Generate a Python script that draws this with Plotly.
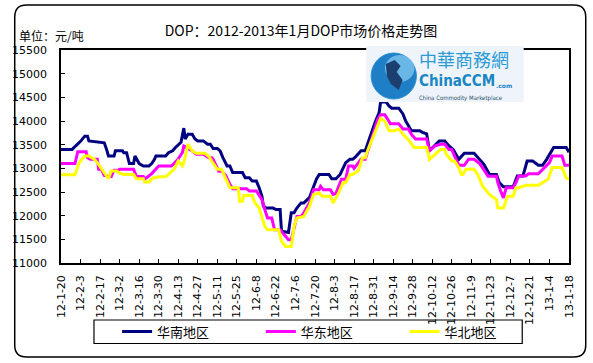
import plotly.graph_objects as go

# ---------------- data ----------------
south_dates = ["2012-01-20","2012-01-28","2012-01-30","2012-02-03","2012-02-06","2012-02-08","2012-02-09","2012-02-15","2012-02-20","2012-02-22","2012-02-23","2012-02-27","2012-02-28","2012-03-04","2012-03-05","2012-03-07","2012-03-09","2012-03-12","2012-03-13","2012-03-16","2012-03-19","2012-03-23","2012-03-25","2012-03-27","2012-03-28","2012-04-04","2012-04-06","2012-04-09","2012-04-11","2012-04-15","2012-04-17","2012-04-18","2012-04-20","2012-04-23","2012-04-25","2012-04-27","2012-05-01","2012-05-04","2012-05-06","2012-05-08","2012-05-11","2012-05-13","2012-05-15","2012-05-18","2012-05-20","2012-05-22","2012-05-29","2012-05-31","2012-06-03","2012-06-05","2012-06-08","2012-06-10","2012-06-12","2012-06-13","2012-06-15","2012-06-20","2012-06-22","2012-06-25","2012-06-26","2012-07-01","2012-07-03","2012-07-05","2012-07-07","2012-07-10","2012-07-12","2012-07-16","2012-07-18","2012-07-21","2012-07-23","2012-07-30","2012-08-01","2012-08-04","2012-08-07","2012-08-09","2012-08-11","2012-08-14","2012-08-16","2012-08-18","2012-08-22","2012-08-25","2012-08-27","2012-08-29","2012-09-01","2012-09-04","2012-09-05","2012-09-09","2012-09-11","2012-09-13","2012-09-18","2012-09-21","2012-09-23","2012-09-25","2012-09-27","2012-10-03","2012-10-05","2012-10-08","2012-10-10","2012-10-17","2012-10-21","2012-10-24","2012-10-27","2012-10-31","2012-11-04","2012-11-11","2012-11-15","2012-11-18","2012-11-22","2012-11-27","2012-11-29","2012-12-02","2012-12-09","2012-12-12","2012-12-16","2012-12-19","2012-12-23","2012-12-27","2012-12-30","2013-01-02","2013-01-07","2013-01-16","2013-01-18"]
south_values = [13400,13400,13460,13570,13680,13680,13580,13560,13540,13370,13260,13260,13370,13370,13330,13330,13100,13100,13260,13100,13050,13050,13100,13190,13260,13260,13330,13370,13440,13550,13850,13620,13720,13720,13620,13580,13580,13510,13510,13420,13420,13370,13225,13050,13050,12910,12910,12800,12800,12730,12730,12590,12410,12200,12160,12160,12130,12130,11670,11645,12060,12060,12160,12270,12270,12380,12550,12770,12870,12870,12780,12780,12870,13015,13120,13190,13190,13240,13370,13370,13550,13720,13970,14185,14400,14400,14320,14270,14270,14150,14000,13900,13795,13795,13760,13730,13370,13580,13580,13475,13400,13190,13320,13320,13190,13085,12870,12870,12700,12610,12610,12840,12840,13155,13155,13065,13065,13190,13440,13440,13340]

east_dates = ["2012-01-20","2012-01-30","2012-02-01","2012-02-07","2012-02-08","2012-02-10","2012-02-15","2012-02-16","2012-02-18","2012-02-20","2012-02-25","2012-02-27","2012-03-01","2012-03-02","2012-03-12","2012-03-14","2012-03-19","2012-03-20","2012-03-25","2012-03-28","2012-03-30","2012-04-08","2012-04-10","2012-04-13","2012-04-16","2012-04-17","2012-04-23","2012-04-26","2012-05-01","2012-05-05","2012-05-07","2012-05-08","2012-05-12","2012-05-14","2012-05-17","2012-05-20","2012-05-22","2012-06-01","2012-06-03","2012-06-08","2012-06-12","2012-06-14","2012-06-16","2012-06-19","2012-06-21","2012-06-25","2012-06-27","2012-07-01","2012-07-03","2012-07-05","2012-07-07","2012-07-10","2012-07-12","2012-07-16","2012-07-19","2012-07-23","2012-07-24","2012-07-26","2012-07-31","2012-08-02","2012-08-04","2012-08-08","2012-08-11","2012-08-13","2012-08-16","2012-08-17","2012-08-22","2012-08-25","2012-08-27","2012-08-29","2012-09-01","2012-09-03","2012-09-05","2012-09-08","2012-09-10","2012-09-12","2012-09-18","2012-09-21","2012-09-25","2012-09-27","2012-09-30","2012-10-08","2012-10-10","2012-10-14","2012-10-18","2012-10-21","2012-10-24","2012-10-26","2012-10-29","2012-10-31","2012-11-04","2012-11-07","2012-11-11","2012-11-15","2012-11-17","2012-11-21","2012-11-27","2012-11-28","2012-11-30","2012-12-02","2012-12-04","2012-12-09","2012-12-11","2012-12-13","2012-12-18","2012-12-20","2012-12-27","2012-12-30","2013-01-04","2013-01-06","2013-01-13","2013-01-15","2013-01-18"]
east_values = [13100,13100,13350,13350,13225,13190,13190,12980,12980,12850,12825,12960,12960,12980,12980,12825,12825,12770,12890,12980,13050,13050,13100,13200,13335,13470,13370,13300,13300,13225,13225,13190,12940,12940,12850,12660,12570,12570,12520,12520,12340,12130,11950,11950,11700,11700,11630,11490,11490,11740,11985,11985,12060,12270,12550,12550,12620,12550,12550,12450,12470,12770,12770,13050,13050,13000,13190,13190,13370,13580,13830,14040,14130,14130,14040,13940,13940,13830,13830,13720,13620,13620,13370,13475,13510,13510,13400,13400,13190,13065,13065,13190,13190,13100,13015,12835,12835,12700,12520,12375,12590,12590,12700,12840,12840,12885,12885,12980,13120,13260,13260,13065,13065]

north_dates = ["2012-01-20","2012-01-30","2012-02-02","2012-02-06","2012-02-09","2012-02-13","2012-02-15","2012-02-20","2012-02-23","2012-02-25","2012-02-29","2012-03-02","2012-03-05","2012-03-12","2012-03-14","2012-03-19","2012-03-20","2012-03-23","2012-03-26","2012-03-28","2012-03-30","2012-04-04","2012-04-06","2012-04-10","2012-04-13","2012-04-16","2012-04-17","2012-04-20","2012-04-23","2012-04-26","2012-05-02","2012-05-05","2012-05-07","2012-05-11","2012-05-14","2012-05-17","2012-05-20","2012-05-26","2012-05-27","2012-05-29","2012-05-30","2012-06-05","2012-06-07","2012-06-10","2012-06-14","2012-06-16","2012-06-24","2012-06-26","2012-06-29","2012-07-03","2012-07-05","2012-07-07","2012-07-12","2012-07-16","2012-07-19","2012-07-23","2012-07-25","2012-07-31","2012-08-02","2012-08-06","2012-08-09","2012-08-11","2012-08-14","2012-08-16","2012-08-20","2012-08-23","2012-08-25","2012-08-27","2012-08-30","2012-09-02","2012-09-05","2012-09-08","2012-09-11","2012-09-15","2012-09-17","2012-09-18","2012-09-21","2012-09-25","2012-09-29","2012-10-08","2012-10-10","2012-10-14","2012-10-18","2012-10-21","2012-10-22","2012-10-26","2012-10-28","2012-10-31","2012-11-02","2012-11-03","2012-11-05","2012-11-11","2012-11-14","2012-11-17","2012-11-22","2012-11-27","2012-11-28","2012-12-02","2012-12-05","2012-12-09","2012-12-11","2012-12-13","2012-12-18","2012-12-27","2012-12-30","2013-01-03","2013-01-06","2013-01-13","2013-01-16","2013-01-18"]
north_values = [12865,12865,13120,13260,13260,13190,13120,12910,12780,12945,12945,12900,12870,12870,12780,12780,12710,12710,12800,12800,12820,12820,12870,12980,13155,13050,13120,13510,13370,13320,13320,13250,13155,12980,12980,12800,12590,12590,12305,12305,12425,12425,12270,12160,11775,11700,11700,11455,11350,11350,11775,11950,11985,12197,12447,12480,12410,12410,12270,12480,12695,12695,12870,12870,12950,13225,13225,13400,13617,13830,14055,14000,13795,13795,13830,13830,13723,13600,13440,13440,13190,13300,13400,13400,13300,13155,13155,13015,12870,12870,12980,12980,12850,12626,12447,12340,12160,12160,12410,12410,12590,12590,12640,12640,12695,12770,13015,13015,12800,12770]

series_names = ["华南地区", "华东地区", "华北地区"]
series_colors = ["#000080", "#FF00FF", "#FFFF00"]

tick_dates = ["2012-01-20","2012-02-03","2012-02-17","2012-03-02","2012-03-16","2012-03-30","2012-04-13","2012-04-27","2012-05-11","2012-05-25","2012-06-08","2012-06-22","2012-07-06","2012-07-20","2012-08-03","2012-08-17","2012-08-31","2012-09-14","2012-09-28","2012-10-12","2012-10-26","2012-11-09","2012-11-23","2012-12-07","2012-12-21","2013-01-04","2013-01-18"]
tick_labels = ["12-1-20","12-2-3","12-2-17","12-3-2","12-3-16","12-3-30","12-4-13","12-4-27","12-5-11","12-5-25","12-6-8","12-6-22","12-7-6","12-7-20","12-8-3","12-8-17","12-8-31","12-9-14","12-9-28","12-10-12","12-10-26","12-11-9","12-11-23","12-12-7","12-12-21","13-1-4","13-1-18"]

title_text = "DOP：2012-2013年1月DOP市场价格走势图"
unit_text = "单位：元/吨"

# ---------------- layout geometry ----------------
W, H = 593, 363
ML, MR, MT, MB = 53, 24, 50, 100
PW = W - ML - MR
PH = H - MT - MB


def px(x):
    return (x - ML) / PW


def py(y):
    return (H - MB - y) / PH


CJK = "Noto Sans CJK SC, DejaVu Sans, sans-serif"
NUM = "DejaVu Sans, Noto Sans CJK SC, sans-serif"

fig = go.Figure()
all_series = [(south_dates, south_values), (east_dates, east_values), (north_dates, north_values)]
legend_ids = ["legend", "legend2", "legend3"]
for (xs, ys), name, color, lg in zip(all_series, series_names, series_colors, legend_ids):
    fig.add_trace(go.Scatter(x=xs, y=ys, mode="lines", name=name,
                             line=dict(color=color, width=3), legend=lg))

# ---------------- shapes ----------------
shapes = []
x0, y0, x1, y1, r = 6, 5, 586, 357, 12
pts = lambda a, b: f"{px(a):.5f},{py(b):.5f}"
frame = (f"M{pts(x0 + r, y0)} L{pts(x1 - r, y0)} Q{pts(x1, y0)} {pts(x1, y0 + r)} "
         f"L{pts(x1, y1 - r)} Q{pts(x1, y1)} {pts(x1 - r, y1)} L{pts(x0 + r, y1)} "
         f"Q{pts(x0, y1)} {pts(x0, y1 - r)} L{pts(x0, y0 + r)} Q{pts(x0, y0)} {pts(x0 + r, y0)} Z")
shapes.append(dict(type="path", path=frame, xref="paper", yref="paper",
                   line=dict(color="black", width=1.5), layer="above"))
shapes.append(dict(type="rect", xref="paper", yref="paper", x0=px(86.5), x1=px(521.5),
                   y0=py(320), y1=py(343.5), line=dict(color="black", width=1.2), layer="above"))
shapes.append(dict(type="rect", xref="paper", yref="paper", x0=px(363), x1=px(523),
                   y0=py(46), y1=py(102), fillcolor="#eef4f9", line=dict(width=0), layer="above"))
shapes.append(dict(type="circle", xref="paper", yref="paper", x0=px(368), x1=px(414),
                   y0=py(53), y1=py(99), fillcolor="#1e7fc6", line=dict(color="#2a90d0", width=1), layer="above"))
shapes.append(dict(type="circle", xref="paper", yref="paper", x0=px(382), x1=px(412),
                   y0=py(55), y1=py(82), fillcolor="#7cc6ee", line=dict(width=0), opacity=0.8, layer="above"))
land = (f"M{pts(383, 64)} L{pts(392, 60)} L{pts(398, 66)} L{pts(394, 72)} L{pts(400, 80)} "
        f"L{pts(396, 90)} L{pts(388, 84)} L{pts(384, 76)} Z")
shapes.append(dict(type="path", path=land, xref="paper", yref="paper",
                   fillcolor="#1b3f6e", line=dict(width=0), layer="above"))

# ---------------- annotations ----------------
ann = []
ann.append(dict(text=unit_text, x=px(8), y=py(36), xref="paper", yref="paper",
                xanchor="left", yanchor="middle", showarrow=False,
                font=dict(family=CJK, size=12, color="black")))
ann.append(dict(text="中華商務網", x=px(416), y=py(59), xref="paper", yref="paper",
                xanchor="left", yanchor="middle", showarrow=False, borderpad=0,
                font=dict(family="Noto Sans CJK TC, Noto Sans CJK SC", size=18, color="#2b9ad6")))
ann.append(dict(text="<b>ChinaCCM</b>", x=px(416), y=py(81), xref="paper", yref="paper",
                xanchor="left", yanchor="middle", showarrow=False, borderpad=0,
                font=dict(family="DejaVu Sans Condensed, DejaVu Sans", size=15, color="#1a86c4")))
ann.append(dict(text="<b>.com</b>", x=px(494), y=py(85), xref="paper", yref="paper",
                xanchor="left", yanchor="middle", showarrow=False, borderpad=0,
                font=dict(family="DejaVu Sans", size=6, color="#1a86c4")))
ann.append(dict(text="China Commodity Marketplace", x=px(416), y=py(97.5), xref="paper", yref="paper",
                xanchor="left", yanchor="middle", showarrow=False, borderpad=0,
                font=dict(family="DejaVu Sans Condensed, DejaVu Sans", size=6, color="#2a4f70")))

legend_common = dict(orientation="h", xanchor="left", yanchor="middle",
                     bgcolor="rgba(0,0,0,0)", borderwidth=0,
                     font=dict(family=CJK, size=13, color="black"), xref="paper", yref="paper")

fig.update_layout(
    width=W, height=H,
    margin=dict(l=ML, r=MR, t=MT, b=MB, pad=0),
    paper_bgcolor="white", plot_bgcolor="white",
    showlegend=True,
    title=dict(text=title_text, x=301 / W, y=1 - 31 / H, xref="container", yref="container",
               xanchor="center", yanchor="middle",
               font=dict(family=CJK, size=14, color="black")),
    xaxis=dict(type="date", range=["2012-01-20", "2013-01-18"],
               tickmode="array", tickvals=tick_dates, ticktext=tick_labels,
               tickangle=-90, ticks="inside", ticklen=4, tickcolor="black",
               showline=True, linecolor="black", linewidth=1.5, mirror=True,
               showgrid=False, zeroline=False, ticklabelstandoff=6,
               tickfont=dict(family=NUM, size=11, color="black")),
    yaxis=dict(range=[11000, 15500], tickmode="linear", tick0=11000, dtick=500,
               tickformat="d",
               ticks="inside", ticklen=4, tickcolor="black",
               showline=True, linecolor="black", linewidth=1.5, mirror=True,
               showgrid=False, zeroline=False, ticklabelstandoff=10,
               tickfont=dict(family=NUM, size=11, color="black")),
    legend=dict(x=px(110), y=py(331.5), **legend_common),
    legend2=dict(x=px(256), y=py(331.5), **legend_common),
    legend3=dict(x=px(402), y=py(331.5), **legend_common),
    shapes=shapes,
    annotations=ann,
)

fig.write_html("out.html", config={"displayModeBar": False},
               post_script="document.body.style.margin='0px';document.body.style.padding='0px';")
